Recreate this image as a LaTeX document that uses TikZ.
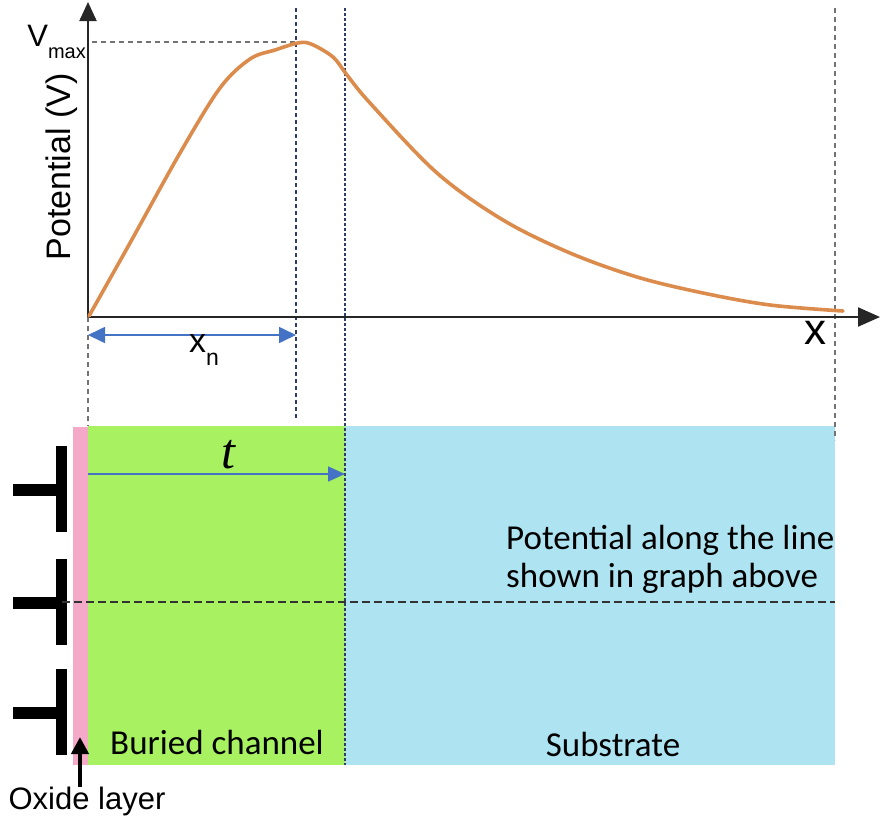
\documentclass[tikz,border=0pt]{standalone}
\usepackage{fontspec}
\setmainfont{Carlito}
\newfontfamily\axisfont{Liberation Sans}
\newfontfamily\thkfont{Liberation Serif}
\usepackage{xcolor}
\usetikzlibrary{arrows.meta,positioning}
\definecolor{curveorange}{HTML}{DB8B4B}
\definecolor{arrowblue}{HTML}{4472C4}
\definecolor{guidenavy}{HTML}{2E3C66}
\definecolor{channelgreen}{HTML}{A8F262}
\definecolor{substrateblue}{HTML}{AEE4F2}
\definecolor{oxidepink}{HTML}{F5A9C8}

\begin{document}
\begin{tikzpicture}[x=1pt,y=-1pt,>=Stealth,
 axis/.style={line width=2.2pt,black!85},
 guide/.style={dash pattern=on 4pt off 3pt,line width=1.8pt,guidenavy},
 faintguide/.style={dash pattern=on 5pt off 4pt,line width=1.3pt,black!55},
 dimarrow/.style={arrowblue,line width=1.6pt,{Triangle[length=17pt,width=16pt]}-{Triangle[length=17pt,width=16pt]}},
 gatebar/.style={fill=black},
 lbl/.style={inner sep=0pt,font=\fontsize{35}{38}\selectfont},
 axlbl/.style={inner sep=0pt,font=\axisfont\fontsize{34}{38}\selectfont}]
\useasboundingbox (0,0) rectangle (883,822);

% regions of the device
\fill[oxidepink] (73,427) rectangle (88,765);
\fill[channelgreen] (88,426) rectangle (345,765);
\fill[substrateblue] (345,426) rectangle (835,765);

% gates
\foreach \gy in {490,603,713}{
  \fill[gatebar] (13,\gy-6) rectangle (61,\gy+6);
  \fill[gatebar] (56,\gy-44) rectangle (67,\gy+42);
}

% points
\coordinate (o) at (88,317);
\coordinate (ytip) at (88,2);
\coordinate (xtip) at (880,317);
\coordinate (peak) at (300,42);
\coordinate (vm) at (92,42);
\coordinate (xnt) at (296,8);
\coordinate (xnb) at (296,418);
\coordinate (tt) at (345,8);
\coordinate (tb) at (345,765);
\coordinate (et) at (835,8);
\coordinate (eb) at (835,440);
\coordinate (ob) at (88,426);
\coordinate (xa) at (88,335);
\coordinate (xb) at (296,335);
\coordinate (ta) at (88,474);
\coordinate (tbb) at (345,474);
\coordinate (cl) at (62,602);
\coordinate (cr) at (835,602);
\coordinate (oxa) at (80,787);
\coordinate (oxb) at (80,737);

% guide lines
\draw[faintguide] (vm) -- (peak);
\draw[faintguide] (o) -- (ob);
\draw[faintguide] (et) -- (eb);
\draw[guide] (xnt) -- (xnb);
\draw[guide,dash pattern=on 3pt off 2pt,line width=2.4pt] (tt) -- (tb);
\draw[dash pattern=on 8pt off 4pt,line width=1.3pt,black!80] (cl) -- (cr);

% axes
\draw[axis,-{Triangle[length=19pt,width=17pt]}] (o) -- (ytip);
\draw[axis,-{Triangle[length=22pt,width=19pt]}] (o) -- (xtip);

% potential curve
\draw[curveorange,line width=3.6pt,line cap=round] plot[smooth,tension=0.55] coordinates {
 (89,316) (130,243) (180,153) (220,88) (250,59) (275,50) (298,43) (311,44)
 (333,57) (347,75) (370,103) (437,173) (503,220) (570,253) (637,277)
 (703,293) (770,305) (843,311)};

% dimensions
\draw[dimarrow] (xa) -- (xb);
\draw[arrowblue,line width=1.6pt,-{Triangle[length=17pt,width=15pt]}] (ta) -- (tbb);
\draw[line width=4.2pt,-{Triangle[length=17pt,width=17pt]}] (oxa) -- (oxb);

% labels
\node[axlbl,anchor=east,font=\axisfont\fontsize{31}{34}\selectfont] (vmax) at (86,42) {V\raisebox{-0.4em}{\fontsize{20}{20}\selectfont max}};
\node[axlbl,rotate=90] (ylab) at (62,167) {Potential (V)};
\node[axlbl,font=\axisfont\fontsize{44}{44}\selectfont] (xlab) at (815,333) {x};
\node[axlbl,font=\axisfont\fontsize{34}{34}\selectfont] (xn) at (204,350) {x\raisebox{-0.4em}{\fontsize{23}{23}\selectfont n}};
\node[inner sep=0pt,font=\thkfont\itshape\fontsize{50}{50}\selectfont] (tlab) at (228,455) {t};
\node[lbl,anchor=west,align=left] (note) at (506,559) {Potential along the line\\shown in graph above};
\node[lbl] (bc) at (217,742) {Buried channel};
\node[lbl] (sub) at (613,744) {Substrate};
\node[axlbl,font=\axisfont\fontsize{31}{34}\selectfont] (ox) at (87,801) {Oxide layer};
\end{tikzpicture}
\end{document}
